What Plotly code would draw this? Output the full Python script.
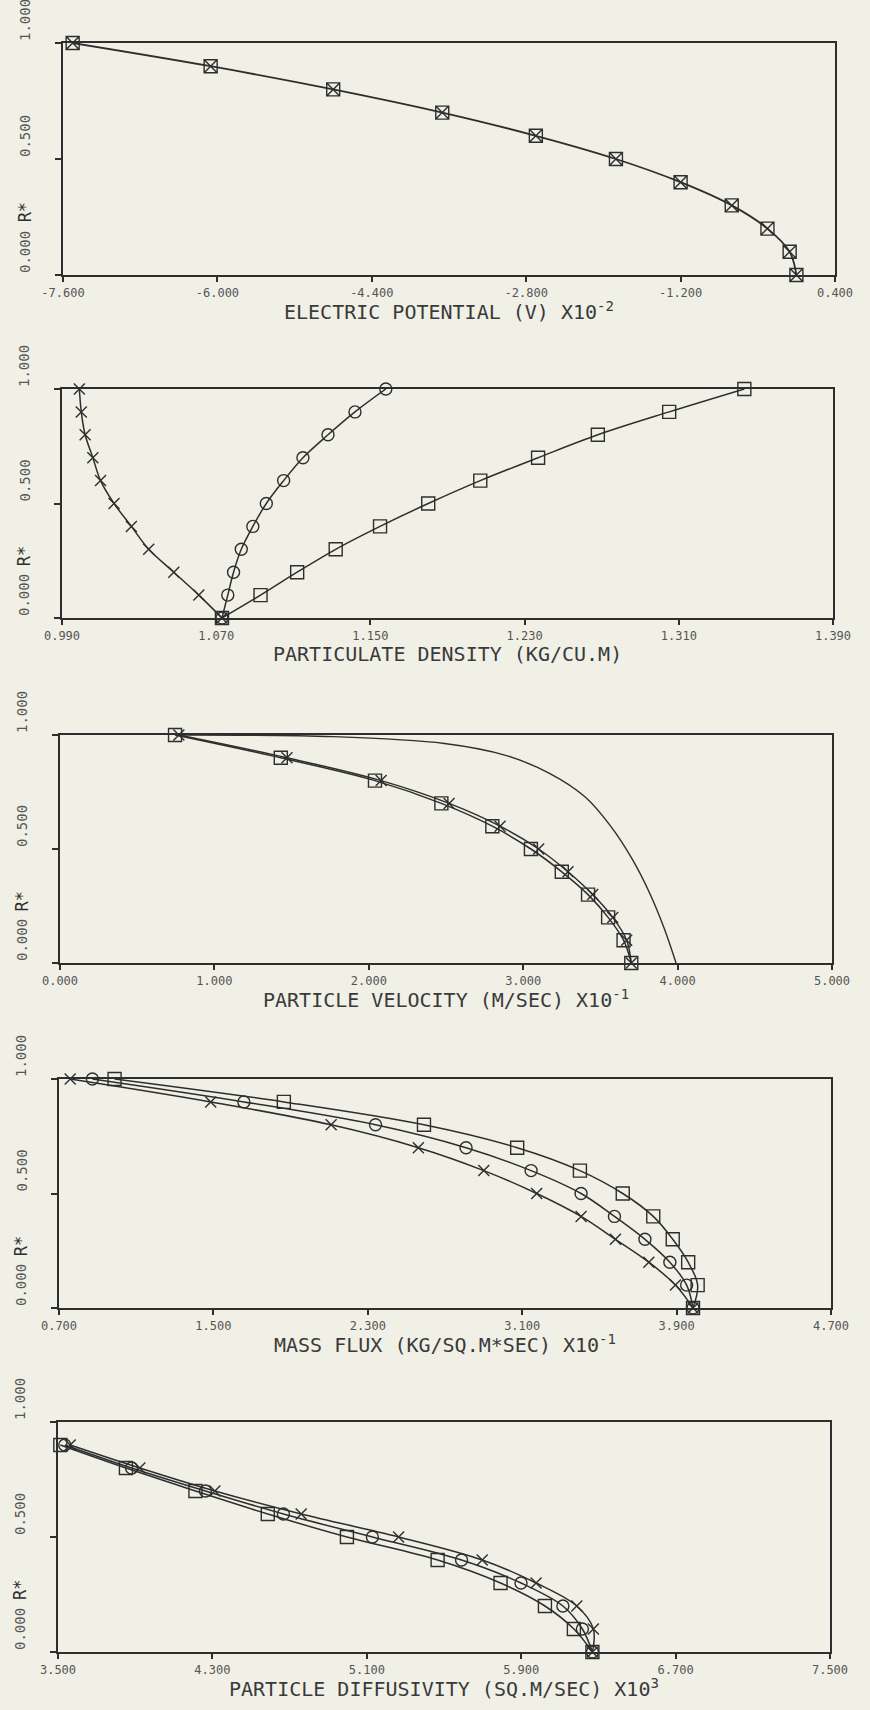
import plotly.graph_objects as go

# ---------------- data ----------------
r_star = [1.0, 0.9, 0.8, 0.7, 0.6, 0.5, 0.4, 0.3, 0.2, 0.1, 0.0]
r_star_inner = [0.9, 0.8, 0.7, 0.6, 0.5, 0.4, 0.3, 0.2, 0.1, 0.0]

# electric potential (V) x10^-2
potential = [-7.50, -6.07, -4.80, -3.67, -2.70, -1.87, -1.20, -0.67, -0.30, -0.07, 0.0]

# particulate density (kg/cu.m)
density_x = [0.999, 1.000, 1.002, 1.006, 1.010, 1.017, 1.026, 1.035, 1.048, 1.061, 1.073]
density_o = [1.158, 1.142, 1.128, 1.115, 1.105, 1.096, 1.089, 1.083, 1.079, 1.076, 1.073]
density_s = [1.344, 1.305, 1.268, 1.237, 1.207, 1.180, 1.155, 1.132, 1.112, 1.093, 1.073]

# particle velocity (m/sec) x10^-1
velocity_s = [0.745, 1.43, 2.04, 2.47, 2.80, 3.05, 3.25, 3.42, 3.55, 3.65, 3.70]
velocity_x = [0.770, 1.47, 2.08, 2.52, 2.85, 3.10, 3.29, 3.45, 3.58, 3.67, 3.70]
gas_velocity = [0.75, 1.77, 2.49, 2.88, 3.17, 3.40, 3.57, 3.71, 3.82, 3.91, 3.99]
gas_r_star = [1.0, 0.993, 0.963, 0.912, 0.832, 0.729, 0.597, 0.451, 0.305, 0.158, 0.0]

# mass flux (kg/sq.m*sec) x10^-1
flux_x = [0.758, 1.486, 2.110, 2.562, 2.901, 3.175, 3.405, 3.583, 3.756, 3.894, 3.985]
flux_o = [0.873, 1.658, 2.340, 2.809, 3.146, 3.405, 3.578, 3.736, 3.865, 3.952, 3.985]
flux_s = [0.988, 1.865, 2.591, 3.074, 3.399, 3.621, 3.779, 3.880, 3.960, 4.009, 3.985]

# particle diffusivity (sq.m/sec) x10^3
diff_s = [3.512, 3.852, 4.212, 4.587, 4.997, 5.467, 5.793, 6.023, 6.173, 6.269]
diff_o = [3.535, 3.881, 4.264, 4.668, 5.129, 5.591, 5.899, 6.116, 6.217, 6.269]
diff_x = [3.563, 3.924, 4.313, 4.760, 5.265, 5.698, 5.977, 6.188, 6.274, 6.269]

# axis ticks
ticks_potential = [-7.6, -6.0, -4.4, -2.8, -1.2, 0.4]
ticks_density = [0.99, 1.07, 1.15, 1.23, 1.31, 1.39]
ticks_velocity = [0.0, 1.0, 2.0, 3.0, 4.0, 5.0]
ticks_flux = [0.7, 1.5, 2.3, 3.1, 3.9, 4.7]
ticks_diff = [3.5, 4.3, 5.1, 5.9, 6.7, 7.5]
ticks_r = [0.0, 0.5, 1.0]

titles = [
    "ELECTRIC POTENTIAL (V) X10<sup>-2</sup>",
    "PARTICULATE DENSITY (KG/CU.M)",
    "PARTICLE VELOCITY (M/SEC) X10<sup>-1</sup>",
    "MASS FLUX (KG/SQ.M*SEC) X10<sup>-1</sup>",
    "PARTICLE DIFFUSIVITY (SQ.M/SEC) X10<sup>3</sup>",
]
x_ticks = [ticks_potential, ticks_density, ticks_velocity, ticks_flux, ticks_diff]

# ---------------- styling ----------------
W, H = 870, 1710
INK = "#2e2e2e"
PAPER = "#f0f0e6"
FONT = "DejaVu Sans Mono"

# panel boxes in pixels: left, right, top, bottom
boxes = [
    (63, 835, 43, 275),
    (62, 833, 389, 618),
    (60, 832, 735, 963),
    (59, 831, 1079, 1308),
    (58, 830, 1422, 1652),
]

fig = go.Figure()


def add_series(idx, xs, ys, symbol=None, size=13, width=1.5, mode="lines+markers"):
    sfx = "" if idx == 1 else str(idx)
    fig.add_trace(go.Scatter(
        x=xs, y=ys, mode=mode,
        xaxis="x" + sfx, yaxis="y" + sfx,
        line=dict(color=INK, width=width, shape="spline", smoothing=1.0),
        marker=dict(symbol=symbol, size=size, color=INK,
                    line=dict(color=INK, width=1.4)) if symbol else None,
        cliponaxis=False, showlegend=False, hoverinfo="skip",
    ))


# panel 1
add_series(1, potential, r_star, "square-x-open", 13, width=1.8)
# panel 2
add_series(2, density_x, r_star, "x-thin-open", 11)
add_series(2, density_o, r_star, "circle-open", 12)
add_series(2, density_s, r_star, "square-open", 13)
# panel 3
add_series(3, gas_velocity, gas_r_star, mode="lines", width=1.4)
add_series(3, velocity_s, r_star, "square-open", 13)
add_series(3, velocity_x, r_star, "x-thin-open", 11)
# panel 4
add_series(4, flux_x, r_star, "x-thin-open", 11)
add_series(4, flux_o, r_star, "circle-open", 12)
add_series(4, flux_s, r_star, "square-open", 13)
# panel 5
add_series(5, diff_s, r_star_inner, "square-open", 13)
add_series(5, diff_o, r_star_inner, "circle-open", 12)
add_series(5, diff_x, r_star_inner, "x-thin-open", 11)

layout = dict(
    width=W, height=H,
    margin=dict(l=0, r=0, t=0, b=0, autoexpand=False),
    paper_bgcolor=PAPER, plot_bgcolor=PAPER,
    font=dict(family=FONT, color=INK),
    showlegend=False,
)

annotations = []
for i, ((l, r, t, b), tv, title) in enumerate(zip(boxes, x_ticks, titles), start=1):
    sfx = "" if i == 1 else str(i)
    layout["xaxis" + sfx] = dict(
        domain=[l / W, r / W], anchor="y" + sfx,
        range=[tv[0], tv[-1]], automargin=False,
        tickmode="array", tickvals=tv, ticktext=[f"{v:.3f}" for v in tv],
        ticks="outside", ticklen=5, tickwidth=1.5, tickcolor=INK,
        showline=True, linewidth=2.2, linecolor=INK, mirror=True,
        showgrid=False, zeroline=False,
        tickfont=dict(family=FONT, size=12, color="#555"),
    )
    layout["yaxis" + sfx] = dict(
        domain=[1 - b / H, 1 - t / H], anchor="x" + sfx,
        range=[0, 1], automargin=False,
        tickmode="array", tickvals=ticks_r, showticklabels=False,
        ticks="outside", ticklen=6, tickwidth=1.5, tickcolor=INK,
        showline=True, linewidth=2.0, linecolor=INK, mirror=True,
        showgrid=False, zeroline=False,
    )
    for v in ticks_r:
        annotations.append(dict(
            text=f"{v:.3f}", textangle=-90, showarrow=False,
            xref=f"x{sfx} domain", x=0, xshift=-38, xanchor="center",
            yref="y" + sfx, y=v, yanchor="bottom",
            font=dict(family=FONT, size=14, color="#555"),
        ))
    annotations.append(dict(
        text="R*", textangle=-90, showarrow=False,
        xref=f"x{sfx} domain", x=0, xshift=-38, xanchor="center",
        yref="y" + sfx, y=0.27, yanchor="middle",
        font=dict(family=FONT, size=17, color=INK),
    ))
    annotations.append(dict(
        text=title, showarrow=False,
        xref=f"x{sfx} domain", x=0.5, xanchor="center",
        yref=f"y{sfx} domain", y=0, yshift=-36, yanchor="middle",
        font=dict(family=FONT, size=20, color="#3a3a3a"),
    ))

layout["annotations"] = annotations
fig.update_layout(**layout)
fig.write_html("out.html")
